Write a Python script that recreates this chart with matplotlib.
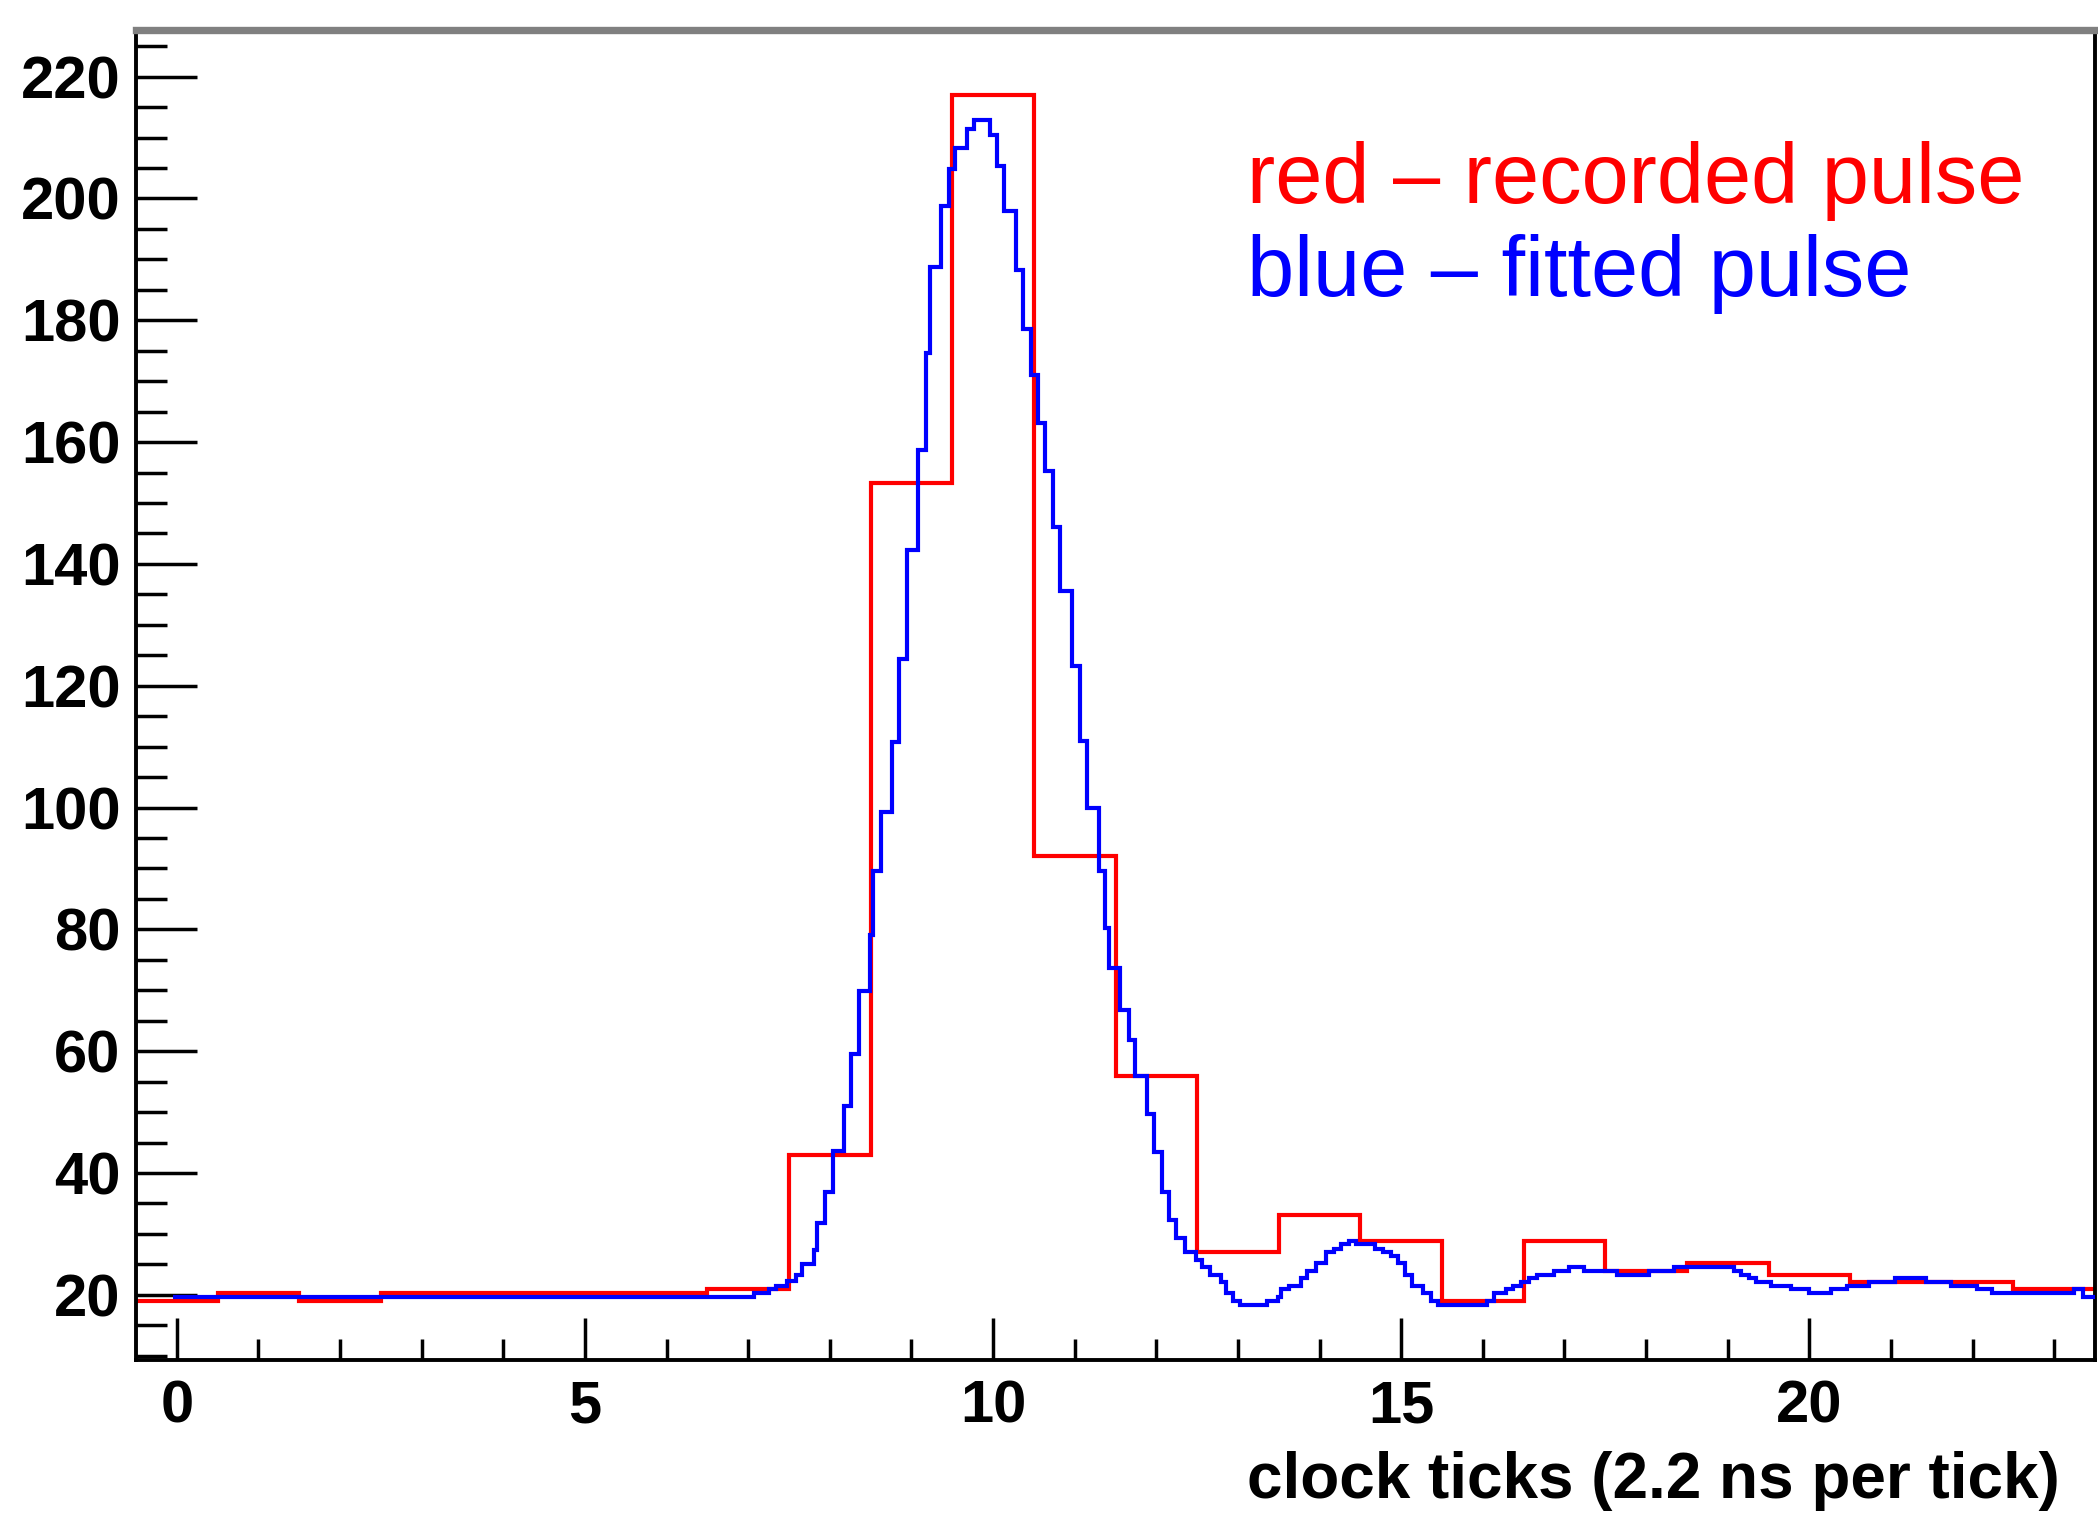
import numpy as np
import matplotlib
matplotlib.use("Agg")
import matplotlib.pyplot as plt
from matplotlib.ticker import MultipleLocator, FixedLocator

# ---------------- data ----------------
# recorded pulse: one value per clock tick (bins centred on 0..23)
red_ticks = list(range(24))
red_values = [19.0, 20.3, 19.0, 20.3, 20.3, 20.3, 20.3, 20.9, 42.9, 153.2,
              217.0, 92.0, 55.9, 27.1, 33.1, 28.8, 19.0, 28.8, 23.95, 25.15,
              23.2, 22.1, 22.1, 20.9]

# fitted pulse: fine step function (step edges in clock ticks, level per step)
blue_edges = [-0.05, 7.068, 7.252, 7.346, 7.477, 7.580, 7.661, 7.804, 7.845, 7.947,
              8.037, 8.172, 8.262, 8.358, 8.489, 8.530, 8.628, 8.763, 8.853, 8.947,
              9.077, 9.180, 9.224, 9.364, 9.457, 9.539, 9.682, 9.772, 9.960, 10.050,
              10.140, 10.283, 10.369, 10.467, 10.548, 10.642, 10.736, 10.826, 10.969, 11.059,
              11.153, 11.296, 11.377, 11.426, 11.561, 11.663, 11.745, 11.880, 11.970, 12.064,
              12.154, 12.236, 12.346, 12.481, 12.563, 12.657, 12.790, 12.848, 12.940, 13.023,
              13.350, 13.490, 13.530, 13.623, 13.767, 13.849, 13.951, 14.082, 14.175, 14.265,
              14.359, 14.441, 14.677, 14.776, 14.870, 14.959, 15.041, 15.127, 15.266, 15.368,
              15.450, 16.055, 16.136, 16.279, 16.373, 16.463, 16.565, 16.659, 16.871, 17.055,
              17.239, 17.648, 18.036, 18.342, 19.077, 19.167, 19.261, 19.351, 19.525, 19.771,
              19.996, 20.270, 20.466, 20.731, 21.046, 21.426, 21.733, 22.060, 22.243, 23.245,
              23.347, 23.5]
blue_values = [19.7, 20.3, 20.9, 21.5, 22.2, 23.2, 25.1, 27.4, 31.8, 36.8,
               43.6, 51.0, 59.5, 69.9, 79.0, 89.5, 99.3, 110.8, 124.4, 142.2,
               158.7, 174.7, 188.8, 198.7, 204.8, 208.3, 211.4, 212.8, 210.4, 205.3,
               198.0, 188.3, 178.5, 171.0, 163.1, 155.3, 146.0, 135.5, 123.2, 110.9,
               99.9, 89.5, 80.3, 73.6, 66.7, 61.8, 55.9, 49.7, 43.5, 36.8,
               32.3, 29.4, 27.1, 25.7, 24.6, 23.2, 22.1, 20.3, 19.0, 18.4,
               19.0, 19.7, 20.9, 21.5, 22.7, 23.9, 25.2, 27.1, 27.6, 28.3,
               28.8, 28.3, 27.6, 27.1, 26.4, 25.2, 23.2, 21.5, 20.3, 19.0,
               18.4, 19.0, 20.3, 20.9, 21.5, 22.1, 22.7, 23.2, 23.9, 24.6,
               23.9, 23.2, 23.9, 24.6, 23.9, 23.2, 22.7, 22.1, 21.5, 20.9,
               20.3, 20.9, 21.5, 22.1, 22.7, 22.1, 21.5, 20.9, 20.3, 20.9,
               19.7]

x_major = [0, 5, 10, 15, 20]
y_major = [20, 40, 60, 80, 100, 120, 140, 160, 180, 200, 220]
xlabel = "clock ticks (2.2 ns per tick)"
legend_red = "red \u2013 recorded pulse"
legend_blue = "blue \u2013 fitted pulse"

# ---------------- figure ----------------
W, H, DPI = 2098, 1517, 100
fig = plt.figure(figsize=(W / DPI, H / DPI), dpi=DPI)
ax = fig.add_axes([136 / W, 1 - 1360 / H, (2095 - 136) / W, (1360 - 29.7) / H])

red_edges = np.concatenate([np.array(red_ticks) - 0.5, [red_ticks[-1] + 0.5]])
ax.stairs(red_values, red_edges, baseline=None, color="#ff0000", lw=3.0, zorder=2)
ax.stairs(blue_values, blue_edges, baseline=None, color="#0000ff", lw=3.0, zorder=3)

ax.set_xlim(-0.5, 23.5)
ax.set_ylim(9.3, 227.7)

font = ["Liberation Sans", "DejaVu Sans"]
ax.xaxis.set_major_locator(FixedLocator(x_major))
ax.xaxis.set_minor_locator(MultipleLocator(1))
ax.yaxis.set_major_locator(FixedLocator(y_major))
ax.yaxis.set_minor_locator(MultipleLocator(5))

ax.tick_params(axis="both", which="both", direction="in", width=2.5, color="black",
               top=False, right=False)
ax.tick_params(axis="x", which="major", length=30, pad=14)
ax.tick_params(axis="x", which="minor", length=15)
ax.tick_params(axis="y", which="major", length=44, pad=11)
ax.tick_params(axis="y", which="minor", length=22)

for lab in ax.get_xticklabels() + ax.get_yticklabels():
    lab.set_fontfamily(font)
    lab.set_fontweight("bold")
    lab.set_fontsize(43)

for side in ["left", "bottom", "right"]:
    ax.spines[side].set_color("black")
    ax.spines[side].set_linewidth(2.8)
ax.spines["top"].set_color("#808080")
ax.spines["top"].set_linewidth(5.3)

fig.text(2060 / W, 1 - 1481 / H, xlabel, ha="right", va="center",
         fontsize=46, fontweight="bold", family=font)

fig.text(1247 / W, 1 - 203 / H, legend_red, ha="left", va="baseline",
         fontsize=61, color="#ff0000", family=font)
fig.text(1247 / W, 1 - 296 / H, legend_blue, ha="left", va="baseline",
         fontsize=61, color="#0000ff", family=font)

fig.savefig("out.png", dpi=DPI, facecolor="white")
